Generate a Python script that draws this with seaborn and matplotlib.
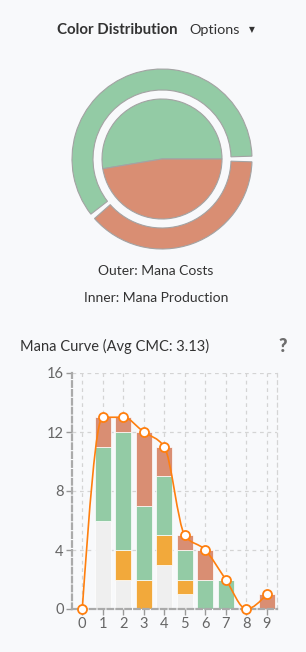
import numpy as np
import pandas as pd
import matplotlib
matplotlib.use("Agg")
import matplotlib.pyplot as plt
import seaborn as sns
from matplotlib.path import Path
from matplotlib.patches import PathPatch

# ---------------- data ----------------
cmc = [0, 1, 2, 3, 4, 5, 6, 7, 8, 9]
colorless = [0, 6, 2, 0, 3, 1, 0, 0, 0, 0]
gold = [0, 0, 2, 2, 2, 1, 0, 0, 0, 0]
green = [0, 5, 8, 5, 4, 2, 2, 2, 0, 0]
red = [0, 2, 1, 5, 2, 1, 2, 0, 0, 1]
y_ticks = [0, 4, 8, 12, 16]

outer_labels = ["Green", "Red"]
outer_values = [61, 39]      # Mana Costs
inner_values = [52.6, 47.4]  # Mana Production

# ---------------- style ----------------
BG = "#f8f9fb"
C_GREEN = "#93cba5"
C_RED = "#d98e73"
C_GOLD = "#f2a93b"
C_GRAY = "#efefef"
C_LINE = "#ff7f0e"

sns.set_theme(style="white")
plt.rcParams["font.family"] = ["Lato", "DejaVu Sans"]

W, H = 306, 652
fig = plt.figure(figsize=(W / 100, H / 100), dpi=100, facecolor=BG)


def px_axes(x0, y0, x1, y1):
    return fig.add_axes([x0 / W, 1 - y1 / H, (x1 - x0) / W, (y1 - y0) / H])


def ftext(x, y, s, **kw):
    fig.text(x / W, 1 - y / H, s, **kw)


# ---------------- donut ----------------
axp = px_axes(62, 59, 262, 259)
axp.set_facecolor(BG)
edge = dict(edgecolor="#a3a3a3", linewidth=0.8)
outer, _ = axp.pie(outer_values, radius=90, colors=[C_GREEN, C_RED],
                   startangle=0, counterclock=True,
                   wedgeprops=dict(width=21, **edge))
for w in outer:
    w.set_theta1(w.theta1 + 1.8)
    w.set_theta2(w.theta2 - 1.8)
axp.pie(inner_values, radius=60, colors=[C_GREEN, C_RED],
        startangle=0, counterclock=True, wedgeprops=edge)
axp.set_xlim(-100, 100)
axp.set_ylim(-100, 100)
axp.axis("off")

# ---------------- texts ----------------
ftext(57, 30, "Color Distribution", ha="left", va="center",
      fontsize=10.8, fontweight="bold", color="#333333")
ftext(189, 30, "Options", ha="left", va="center", fontsize=10.4, color="#333333")
ftext(252, 30, "\u25BC", ha="center", va="center", fontsize=5.5,
      color="#333333", family=["DejaVu Sans"])
ftext(156, 271, "Outer: Mana Costs", ha="center", va="center",
      fontsize=10, color="#333333")
ftext(156.5, 298, "Inner: Mana Production", ha="center", va="center",
      fontsize=10, color="#333333")
ftext(20, 346, "Mana Curve (Avg CMC: 3.13)", ha="left", va="center",
      fontsize=10.5, color="#333333")
ftext(282.5, 346, "?", ha="center", va="center", fontsize=13,
      fontweight="heavy", color="#6e6e6e")

# ---------------- mana curve ----------------
ax = px_axes(72, 373, 277, 609)
ax.set_facecolor(BG)

rows = []
for name, vals in [("Red", red), ("Green", green), ("Gold", gold), ("Colorless", colorless)]:
    for c, v in zip(cmc, vals):
        rows.append({"cmc": c, "color": name, "count": v})
df = pd.DataFrame(rows)
pal = {"Red": C_RED, "Green": C_GREEN, "Gold": C_GOLD, "Colorless": C_GRAY}

sns.histplot(data=df, x="cmc", weights="count", hue="color",
             hue_order=["Red", "Green", "Gold", "Colorless"],
             multiple="stack", discrete=True, shrink=0.78, palette=pal,
             alpha=1, edgecolor="white", linewidth=0.5, legend=False, ax=ax)

totals = [a + b + c + d for a, b, c, d in zip(colorless, gold, green, red)]

# monotone-x cubic curve through the totals (d3 curveMonotoneX style)
xs = np.array(cmc, float)
ys = np.array(totals, float)
n = len(xs)
t = np.zeros(n)
for i in range(1, n - 1):
    h0, h1 = xs[i] - xs[i - 1], xs[i + 1] - xs[i]
    s0, s1 = (ys[i] - ys[i - 1]) / h0, (ys[i + 1] - ys[i]) / h1
    p = (s0 * h1 + s1 * h0) / (h0 + h1)
    t[i] = (np.sign(s0) + np.sign(s1)) * min(abs(s0), abs(s1), 0.5 * abs(p))
t[0] = (3 * (ys[1] - ys[0]) / (xs[1] - xs[0]) - t[1]) / 2
t[-1] = (3 * (ys[-1] - ys[-2]) / (xs[-1] - xs[-2]) - t[-2]) / 2
verts = [(xs[0], ys[0])]
codes = [Path.MOVETO]
for i in range(n - 1):
    dx = (xs[i + 1] - xs[i]) / 3
    verts += [(xs[i] + dx, ys[i] + dx * t[i]),
              (xs[i + 1] - dx, ys[i + 1] - dx * t[i + 1]),
              (xs[i + 1], ys[i + 1])]
    codes += [Path.CURVE4] * 3
ax.add_patch(PathPatch(Path(verts, codes), fill=False, edgecolor=C_LINE,
                       linewidth=1.2, zorder=4, clip_on=False))
ax.plot(cmc, totals, "o", mfc="white", mec=C_LINE, ms=6.5, mew=1.3,
        zorder=5, clip_on=False)

ax.set_xlim(-0.5, 9.5)
ax.set_ylim(0, 16)
ax.set_xticks(cmc)
ax.set_yticks(y_ticks)
ax.set_xlabel("")
ax.set_ylabel("")
ax.set_axisbelow(True)
ax.grid(True, color="#d4d4d4", linestyle=(0, (3, 3)), linewidth=0.9)
for s in ["left", "bottom"]:
    ax.spines[s].set_color("#aaaaaa")
    ax.spines[s].set_linestyle((0, (2.5, 1.5)))
    ax.spines[s].set_linewidth(1.6)
ax.spines["right"].set_color("#d4d4d4")
ax.spines["right"].set_linestyle((0, (3, 3)))
ax.spines["right"].set_linewidth(0.9)
ax.spines["top"].set_visible(False)
ax.tick_params(axis="both", length=4, width=1, color="#999999",
               labelsize=10.5, labelcolor="#666666", pad=2,
               left=True, bottom=True)

fig.savefig("out.png", dpi=100, facecolor=BG)
